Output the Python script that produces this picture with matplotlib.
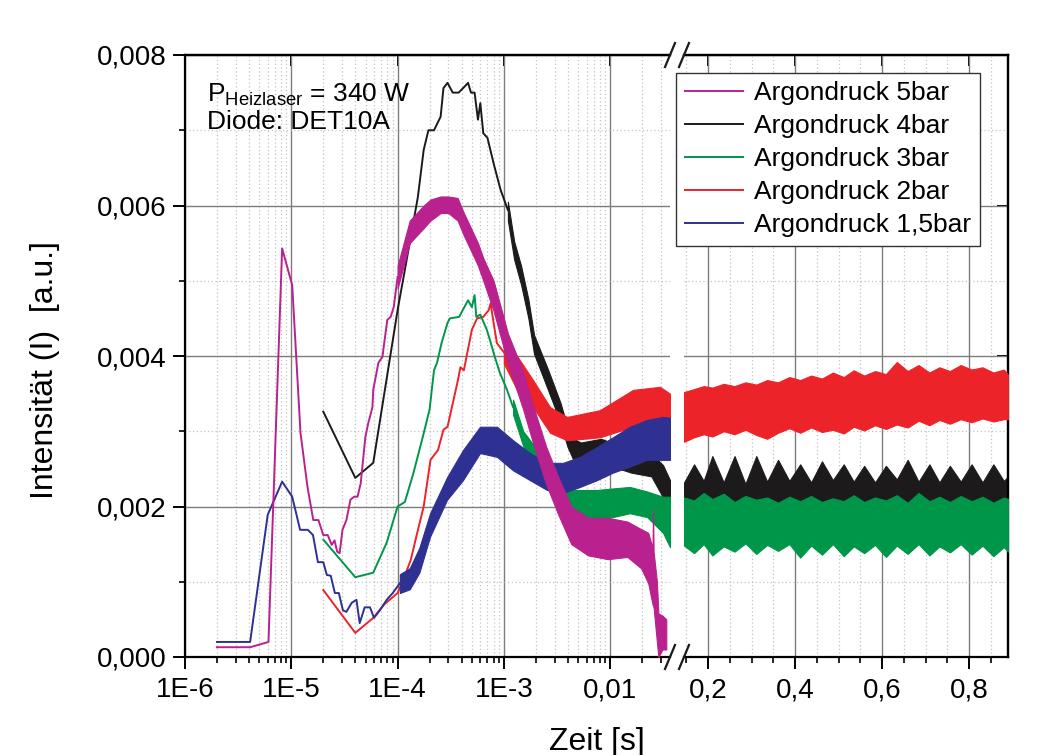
import matplotlib
matplotlib.use("Agg")
import matplotlib.pyplot as plt
from matplotlib.lines import Line2D
from matplotlib.ticker import MultipleLocator, LogLocator, NullLocator

plt.rcParams['font.family'] = ['Liberation Sans', 'DejaVu Sans']
plt.rcParams['mathtext.fontset'] = 'custom'
plt.rcParams['mathtext.rm'] = 'Liberation Sans'

# ---- data: thin early part of each trace (t [s], intensity) ----
t_5bar = [2.0e-6, 4.1e-6, 6.1e-6, 8.2e-6, 1.02e-5, 1.22e-5, 1.42e-5, 1.61e-5, 1.8e-5, 2.0e-5,
          2.2e-5, 2.4e-5, 2.55e-5, 2.7e-5, 2.85e-5, 3.03e-5, 3.3e-5, 3.6e-5, 3.9e-5, 4.2e-5,
          4.5e-5, 4.97e-5, 5.3e-5, 5.8e-5, 5.9e-5, 6.6e-5, 7.2e-5, 7.4e-5, 8.0e-5, 8.6e-5,
          9.2e-5, 1.0e-4]
i_5bar = [0.00013, 0.00013, 0.0002, 0.00543, 0.00494, 0.00298, 0.00226, 0.00182, 0.00182, 0.00162,
          0.00162, 0.00149, 0.00155, 0.0014, 0.00138, 0.00169, 0.00182, 0.00209, 0.00213, 0.00213,
          0.00231, 0.00292, 0.00311, 0.00332, 0.00355, 0.00391, 0.00399, 0.00412, 0.00448, 0.00452,
          0.00465, 0.00505]

t_4bar = [2.0e-5, 4.0e-5, 5.9e-5, 1.0e-4, 1.33e-4, 1.55e-4, 1.76e-4, 1.95e-4, 2.2e-4, 2.54e-4,
          2.7e-4, 2.95e-4, 3.3e-4, 3.75e-4, 4.2e-4, 4.6e-4, 4.9e-4, 5.3e-4, 5.7e-4, 6.0e-4,
          6.4e-4, 7.0e-4, 8.0e-4, 9.3e-4, 1.09e-3]
i_4bar = [0.00326, 0.00238, 0.00258, 0.00461, 0.00558, 0.00611, 0.00674, 0.0070, 0.0070, 0.00718,
          0.00756, 0.00763, 0.0075, 0.0075, 0.00757, 0.00763, 0.0075, 0.0075, 0.00714, 0.00736,
          0.00696, 0.0069, 0.00656, 0.00621, 0.00594]

t_3bar = [2.0e-5, 4.0e-5, 5.9e-5, 7.9e-5, 1.0e-4, 1.17e-4, 1.4e-4, 1.73e-4, 2.0e-4, 2.2e-4,
          2.35e-4, 2.6e-4, 2.95e-4, 3.1e-4, 3.8e-4, 4.1e-4, 4.6e-4, 5.0e-4, 5.3e-4, 5.5e-4,
          6.0e-4, 6.9e-4, 7.4e-4, 8.2e-4, 9.2e-4, 1.07e-3, 1.22e-3]
i_3bar = [0.00156, 0.00106, 0.00112, 0.00152, 0.0020, 0.00206, 0.00243, 0.00293, 0.00329, 0.00381,
          0.00391, 0.00418, 0.00444, 0.0045, 0.00452, 0.00461, 0.00474, 0.00465, 0.00481, 0.00452,
          0.00455, 0.00435, 0.00421, 0.00399, 0.00377, 0.00355, 0.00332]

t_2bar = [2.0e-5, 4.0e-5, 5.9e-5, 7.5e-5, 1.0e-4, 1.15e-4, 1.33e-4, 1.5e-4, 1.76e-4, 2.04e-4,
          2.4e-4, 2.7e-4, 2.95e-4, 3.67e-4, 3.9e-4, 4.2e-4, 5.0e-4, 5.6e-4, 6.4e-4, 7.2e-4,
          7.5e-4, 8.0e-4, 8.6e-4, 1.0e-3]
i_2bar = [0.00089, 0.00032, 0.00052, 0.0007, 0.00085, 0.00105, 0.00129, 0.0016, 0.0020, 0.00262,
          0.00275, 0.00302, 0.00306, 0.00366, 0.00385, 0.00381, 0.00435, 0.0045, 0.00452, 0.00461,
          0.0047, 0.00444, 0.00417, 0.00405]

t_15bar = [2.0e-6, 4.1e-6, 6.0e-6, 8.2e-6, 1.02e-5, 1.21e-5, 1.43e-5, 1.6e-5, 1.78e-5, 2.0e-5,
           2.16e-5, 2.35e-5, 2.57e-5, 2.8e-5, 3.06e-5, 3.3e-5, 3.7e-5, 4.1e-5, 4.4e-5, 4.9e-5,
           5.5e-5, 6.0e-5, 6.8e-5, 7.9e-5, 9.0e-5, 1.05e-4]
i_15bar = [0.0002, 0.0002, 0.00189, 0.00233, 0.00213, 0.00169, 0.00169, 0.00162, 0.00126, 0.00126,
           0.00109, 0.00108, 0.00085, 0.00085, 0.00062, 0.0006, 0.00072, 0.00076, 0.00045, 0.00066,
           0.00066, 0.00052, 0.00062, 0.00076, 0.00085, 0.00098]

# ---- noisy part of each trace as (t, lower edge, upper edge) ----
tb_5bar = [1.0e-4, 1.3e-4, 1.76e-4, 2.04e-4, 2.54e-4, 3.0e-4, 3.67e-4, 4.2e-4, 4.9e-4, 5.7e-4,
           6.4e-4, 8.0e-4, 1.09e-3, 1.51e-3, 1.92e-3, 2.49e-3, 3.23e-3, 4.3e-3, 6.2e-3, 9.5e-3,
           0.0145, 0.0195, 0.0228, 0.0250, 0.0253, 0.0256, 0.0275, 0.0284, 0.031, 0.0337]
lo_5bar = [0.0049, 0.0055, 0.0057, 0.0058, 0.0059, 0.0059, 0.0058, 0.0056, 0.0054, 0.0052,
           0.0050, 0.0046, 0.0039, 0.0033, 0.0028, 0.0023, 0.0019, 0.0015, 0.00135, 0.0013,
           0.00133, 0.00118, 0.00098, 0.0007, 0.00068, 0.00066, 0.0002, 0.0, 0.0001, 0.0001]
hi_5bar = [0.0052, 0.0058, 0.0060, 0.00608, 0.00612, 0.00612, 0.0061, 0.0059, 0.0057, 0.0055,
           0.0053, 0.0050, 0.0043, 0.0038, 0.0033, 0.0028, 0.0024, 0.0020, 0.00185, 0.00185,
           0.0018, 0.0017, 0.00165, 0.00145, 0.00195, 0.0014, 0.0010, 0.00058, 0.00055, 0.0005]

tb_4bar = [1.09e-3, 1.25e-3, 1.45e-3, 1.7e-3, 1.92e-3, 2.6e-3, 3.4e-3, 3.95e-3, 4.5e-3, 5.3e-3,
           8.2e-3, 0.0158, 0.0244, 0.0314, 0.0365]
lo_4bar = [0.0058, 0.00528, 0.00495, 0.0045, 0.00403, 0.00355, 0.00312, 0.0028, 0.00262, 0.00255,
           0.00258, 0.00245, 0.0024, 0.00212, 0.00195]
hi_4bar = [0.00605, 0.00552, 0.0052, 0.00475, 0.00428, 0.00382, 0.00338, 0.00306, 0.0029, 0.00285,
           0.0029, 0.00275, 0.0027, 0.00255, 0.00235]

tb_3bar = [1.22e-3, 1.52e-3, 1.9e-3, 2.6e-3, 3.6e-3, 5.2e-3, 7.5e-3, 0.0106, 0.0153, 0.0222,
           0.0314, 0.0365]
lo_3bar = [0.00322, 0.0028, 0.00255, 0.00225, 0.00195, 0.00186, 0.00182, 0.00186, 0.00191, 0.00186,
           0.00165, 0.00146]
hi_3bar = [0.00342, 0.0030, 0.00282, 0.00262, 0.00222, 0.00222, 0.00222, 0.00224, 0.00226, 0.0022,
           0.00213, 0.00213]

tb_2bar = [1.0e-3, 1.33e-3, 1.88e-3, 2.72e-3, 3.93e-3, 8.0e-3, 0.0164, 0.0294, 0.0365]
lo_2bar = [0.0039, 0.00355, 0.00332, 0.00298, 0.00288, 0.00292, 0.00306, 0.00315, 0.0031]
hi_2bar = [0.0042, 0.0040, 0.00368, 0.00332, 0.00319, 0.00328, 0.00355, 0.00359, 0.0035]

tb_15bar = [1.05e-4, 1.3e-4, 1.6e-4, 2.02e-4, 2.92e-4, 4.12e-4, 5.96e-4, 8.6e-4, 1.22e-3, 1.76e-3,
            2.54e-3, 3.6e-3, 5.2e-3, 7.5e-3, 0.0106, 0.0153, 0.0222, 0.0314, 0.0365]
lo_15bar = [0.00085, 0.0009, 0.00112, 0.0016, 0.00209, 0.00235, 0.00271, 0.00266, 0.00248, 0.00235,
            0.00222, 0.00218, 0.00226, 0.00235, 0.00245, 0.00253, 0.00262, 0.00262, 0.00262]
hi_15bar = [0.0011, 0.00118, 0.00145, 0.00191, 0.00239, 0.00275, 0.00306, 0.00306, 0.00288, 0.00271,
            0.00258, 0.00258, 0.00266, 0.00279, 0.00292, 0.00306, 0.00315, 0.00319, 0.00318]

# ---- long time range (linear axis) ----
t_long = [0.145, 0.168, 0.19, 0.21, 0.236, 0.261, 0.286, 0.311, 0.336, 0.361, 0.387, 0.412,
          0.437, 0.462, 0.487, 0.512, 0.535, 0.559, 0.584, 0.609, 0.634, 0.659, 0.684, 0.709,
          0.732, 0.756, 0.781, 0.806, 0.831, 0.856, 0.88, 0.89]
lo_4bar_long = [0.00195, 0.0020, 0.00192, 0.00202, 0.00193, 0.0020, 0.0019, 0.00201, 0.00194, 0.0020,
                0.00192, 0.00199, 0.00191, 0.0020, 0.00193, 0.00198, 0.00192, 0.00199, 0.0019, 0.0020,
                0.00193, 0.00201, 0.00191, 0.00198, 0.00192, 0.0020, 0.0019, 0.00199, 0.00193, 0.00198,
                0.00191, 0.00195]
hi_4bar_long = [0.00232, 0.00256, 0.00234, 0.00267, 0.00232, 0.00267, 0.0023, 0.00267, 0.00233, 0.00262,
                0.00234, 0.00256, 0.00232, 0.0026, 0.00235, 0.00256, 0.00233, 0.00254, 0.00232, 0.00254,
                0.00236, 0.00262, 0.00233, 0.00256, 0.00232, 0.00254, 0.00233, 0.00256, 0.00232, 0.00256,
                0.00234, 0.0024]
lo_3bar_long = [0.00148, 0.00138, 0.0015, 0.00135, 0.00147, 0.0014, 0.00151, 0.00137, 0.00149, 0.00141,
                0.0015, 0.00132, 0.00148, 0.00136, 0.0015, 0.00134, 0.00147, 0.00138, 0.00149, 0.00133,
                0.00148, 0.00137, 0.0015, 0.00135, 0.00147, 0.00139, 0.0015, 0.00136, 0.00148, 0.00134,
                0.00146, 0.0014]
hi_3bar_long = [0.00212, 0.00208, 0.00218, 0.0021, 0.00217, 0.00206, 0.00214, 0.00209, 0.00212, 0.00205,
                0.00213, 0.00207, 0.00214, 0.00206, 0.00211, 0.00207, 0.00215, 0.00206, 0.00212, 0.00208,
                0.00215, 0.00205, 0.00218, 0.00207, 0.00213, 0.00206, 0.00214, 0.00207, 0.00213, 0.00205,
                0.00212, 0.0021]
lo_2bar_long = [0.00286, 0.00292, 0.00296, 0.00293, 0.003, 0.00296, 0.00302, 0.00295, 0.0029, 0.00298,
                0.00304, 0.00298, 0.00305, 0.00299, 0.00302, 0.00297, 0.00306, 0.00301, 0.00308, 0.00303,
                0.00309, 0.00305, 0.00314, 0.00308, 0.00315, 0.0031, 0.00316, 0.00312, 0.00317, 0.00313,
                0.00316, 0.00316]
hi_2bar_long = [0.00352, 0.00356, 0.0036, 0.00358, 0.00363, 0.0036, 0.00365, 0.00362, 0.00368, 0.00365,
                0.00372, 0.00368, 0.00374, 0.0037, 0.00378, 0.00372, 0.00381, 0.00374, 0.0038, 0.00376,
                0.00392, 0.0038, 0.00388, 0.00378, 0.00385, 0.0038, 0.00388, 0.00382, 0.00385, 0.00378,
                0.00382, 0.00375]

labels = ['Argondruck 5bar', 'Argondruck 4bar', 'Argondruck 3bar', 'Argondruck 2bar', 'Argondruck 1,5bar']
colors = ['#b8218e', '#1c1a1b', '#00964a', '#ec2329', '#2e3191']

log_ticks = [1e-6, 1e-5, 1e-4, 1e-3, 1e-2]
log_labels = ['1E-6', '1E-5', '1E-4', '1E-3', '0,01']
lin_ticks = [0.2, 0.4, 0.6, 0.8]
lin_labels = ['0,2', '0,4', '0,6', '0,8']
y_ticks = [0.0, 0.002, 0.004, 0.006, 0.008]
y_labels = ['0,000', '0,002', '0,004', '0,006', '0,008']

W, H = 1037, 755
fig = plt.figure(figsize=(W / 100, H / 100), dpi=100)

# two panels: log time axis and linear time axis with a break between
x0, x_brk1, x_brk2, x1 = 185, 670, 684, 1008
y_bot, y_top = 657, 55
b = 1 - y_bot / H
h = (y_bot - y_top) / H
ax1 = fig.add_axes([x0 / W, b, (x_brk1 - x0) / W, h])
ax2 = fig.add_axes([x_brk2 / W, b, (x1 - x_brk2) / W, h], sharey=ax1)

ax1.set_xscale('log')
ax1.set_xlim(1e-6, 10 ** (-6 + (x_brk1 - x0) / 106.3))
ax2.set_xlim(0.2 - (708 - x_brk2) / 435, 0.2 + (x1 - 708) / 435)
ax1.set_ylim(0, 0.008)

fs_tick = 20
for ax in (ax1, ax2):
    ax.set_axisbelow(True)
    ax.grid(which='major', color='#7d7d7d', lw=1.0, ls='-')
    ax.grid(which='minor', color='#c4c4c4', lw=0.9, ls=(0, (1, 2)))
    ax.tick_params(which='major', direction='out', length=8.5, width=1.4, labelsize=fs_tick, pad=6)
    ax.tick_params(which='minor', direction='out', length=4.5, width=1.2)
    for s in ax.spines.values():
        s.set_linewidth(1.6)

ax1.yaxis.set_minor_locator(MultipleLocator(0.001))
ax1.set_yticks(y_ticks, y_labels)
ax1.tick_params(axis='y', which='major', pad=5)
ax1.set_xticks(log_ticks, log_labels)
ax1.xaxis.set_minor_locator(LogLocator(base=10, subs=range(2, 10), numticks=20))
ax1.spines['right'].set_visible(False)

ax2.set_xticks(lin_ticks, lin_labels)
ax2.xaxis.set_minor_locator(MultipleLocator(0.05))
ax2.spines['left'].set_visible(False)
ax2.tick_params(axis='y', which='both', left=False, labelleft=False)

# inward ticks on top and right frame
top1 = ax1.secondary_xaxis('top')
top1.set_xticks(log_ticks)
top2 = ax2.secondary_xaxis('top')
top2.set_xticks(lin_ticks)
right2 = ax2.secondary_yaxis('right')
right2.set_yticks(y_ticks)
for sec in (top1, top2, right2):
    sec.tick_params(which='major', direction='in', length=8, width=1.4, labeltop=False, labelright=False)
    sec.tick_params(which='minor', length=0)
    for s in sec.spines.values():
        s.set_linewidth(1.6)
top1.xaxis.set_minor_locator(NullLocator())
top2.xaxis.set_minor_locator(NullLocator())
right2.yaxis.set_minor_locator(NullLocator())

# traces, drawn from the back to the front
lw = 1.4
series = [
    (1, t_4bar, i_4bar, tb_4bar, lo_4bar, hi_4bar, lo_4bar_long, hi_4bar_long, 2),
    (3, t_2bar, i_2bar, tb_2bar, lo_2bar, hi_2bar, lo_2bar_long, hi_2bar_long, 3),
    (2, t_3bar, i_3bar, tb_3bar, lo_3bar, hi_3bar, lo_3bar_long, hi_3bar_long, 4),
    (4, t_15bar, i_15bar, tb_15bar, lo_15bar, hi_15bar, None, None, 5),
    (0, t_5bar, i_5bar, tb_5bar, lo_5bar, hi_5bar, None, None, 6),
]
handles = [None] * 5
for k, t, i, tb, lo, hi, lo_l, hi_l, z in series:
    c = colors[k]
    handles[k], = ax1.plot(t, i, color=c, lw=lw, zorder=z, label=labels[k])
    ax1.fill_between(tb, lo, hi, color=c, lw=0.8, edgecolor=c, zorder=z)
    if lo_l is not None:
        ax2.fill_between(t_long, lo_l, hi_l, color=c, lw=0.8, edgecolor=c, zorder=z)

fig.legend(handles=handles, loc='upper right', bbox_to_anchor=(980 / W, 1 - 73 / H),
           fontsize=19, frameon=True, fancybox=False, edgecolor='#333333', framealpha=1,
           handlelength=2.2, handletextpad=0.45, labelspacing=0.34, borderpad=0.32,
           borderaxespad=0)

# break marks
for xp in (x_brk1, x_brk2):
    for yp in (y_bot, y_top):
        fig.add_artist(Line2D([(xp - 5) / W, (xp + 5) / W], [1 - (yp + 12) / H, 1 - (yp - 12) / H],
                              transform=fig.transFigure, color='#1a1a1a', lw=1.6))

fig.text(207 / W, 1 - 101 / H, r'P$_{\mathrm{Heizlaser}}$ = 340 W', fontsize=19, va='baseline')
fig.text(207 / W, 1 - 129 / H, 'Diode: DET10A', fontsize=19, va='baseline')

fig.text((x0 + x1) / 2 / W, 1 - 742 / H, 'Zeit [s]', fontsize=23, ha='center', va='center')
fig.text(45 / W, 1 - 370 / H, 'Intensität (I)  [a.u.]', fontsize=23, rotation=90,
         ha='center', va='center')

fig.savefig('out.png', dpi=100)
